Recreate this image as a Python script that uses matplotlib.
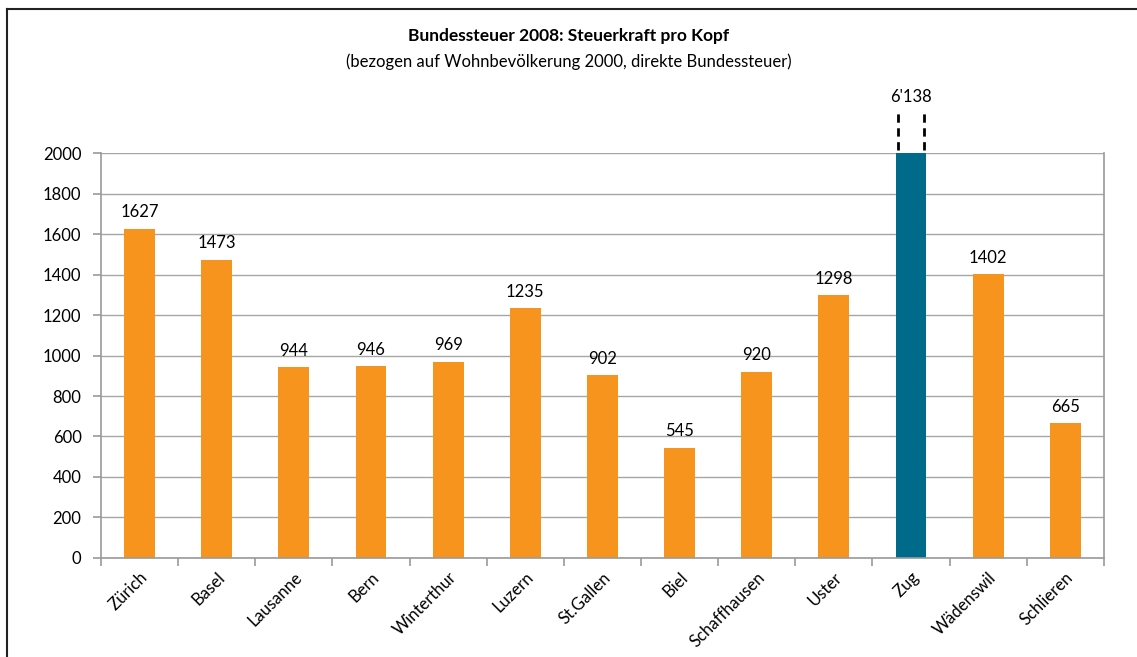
import matplotlib.pyplot as plt
from matplotlib.lines import Line2D
import matplotlib.transforms as mtransforms

plt.rcParams['font.family'] = ['Lato', 'DejaVu Sans']

cities = ['Zürich', 'Basel', 'Lausanne', 'Bern', 'Winterthur', 'Luzern', 'St.Gallen',
          'Biel', 'Schaffhausen', 'Uster', 'Zug', 'Wädenswil', 'Schlieren']
values = [1627, 1473, 944, 946, 969, 1235, 902, 545, 920, 1298, 6138, 1402, 665]
labels = ['1627', '1473', '944', '946', '969', '1235', '902', '545', '920', '1298', "6'138", '1402', '665']
highlight = 'Zug'
ymax = 2000

orange = '#f7941d'
teal = '#006a8a'
grey = '#9a9a9a'

fig = plt.figure(figsize=(11.37, 6.57), dpi=100)
ax = fig.add_axes([0.0888, 0.1507, 0.882, 0.6164])

x = range(len(cities))
colors = [teal if c == highlight else orange for c in cities]
ax.bar(x, values, width=0.4, color=colors, zorder=2)

ax.set_ylim(0, ymax)
ax.set_xlim(-0.5, len(cities) - 0.5)
ax.set_yticks(range(0, ymax + 1, 200))
ax.yaxis.grid(True, color='#a6a6a6', linewidth=1, zorder=0)

for sp in ['left', 'bottom', 'right', 'top']:
    ax.spines[sp].set_color(grey)
    ax.spines[sp].set_linewidth(1.2)
ax.spines['top'].set_visible(False)

ax.set_xticks([i - 0.5 for i in range(len(cities) + 1)], minor=False)
ax.set_xticklabels([])
ax.set_xticks(list(x), minor=True)
ax.set_xticklabels(cities, minor=True, rotation=45, ha='right', va='top',
                   rotation_mode='anchor', fontsize=12)
ax.tick_params(axis='x', which='minor', length=0, pad=8)
ax.tick_params(axis='x', which='major', length=6, color=grey, width=1.2)
ax.tick_params(axis='y', length=6, color=grey, width=1.2, labelsize=12, pad=8)

for i, (v, lab) in enumerate(zip(values, labels)):
    if v > ymax:
        trans = mtransforms.blended_transform_factory(ax.transData, ax.transAxes)
        for dx in (-0.17, 0.17):
            ax.add_line(Line2D([i + dx, i + dx], [1.008, 1.1], transform=trans,
                               color='black', linestyle=(0, (3, 2)), linewidth=2,
                               clip_on=False))
        ax.text(i, 1.118, lab, transform=trans, ha='center', va='bottom', fontsize=12)
    else:
        ax.annotate(lab, (i, v), xytext=(0, 6), textcoords='offset points',
                    ha='center', va='bottom', fontsize=12)

fig.text(0.5, 0.945, 'Bundessteuer 2008: Steuerkraft pro Kopf', ha='center', va='center',
         fontsize=12.5, fontweight='bold')
fig.text(0.5, 0.906, '(bezogen auf Wohnbevölkerung 2000, direkte Bundessteuer)',
         ha='center', va='center', fontsize=12)

# frame lines (left and top)
fig.add_artist(Line2D([7 / 1137, 7 / 1137], [0, 1 - 9 / 657], transform=fig.transFigure,
                      color='#222222', linewidth=1.5))
fig.add_artist(Line2D([7 / 1137, 1], [1 - 9 / 657, 1 - 9 / 657], transform=fig.transFigure,
                      color='#222222', linewidth=1.5))

fig.savefig('out.png', dpi=100)
